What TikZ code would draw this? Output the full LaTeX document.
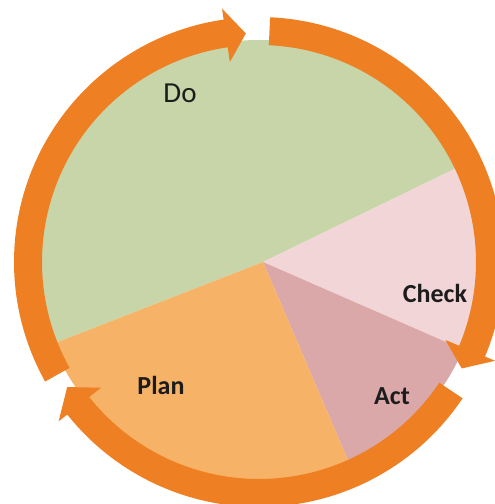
\documentclass[tikz,border=0pt]{standalone}
\usepackage{fontspec}
\setmainfont{Carlito}
\definecolor{dogreen}{HTML}{C8D5A9}
\definecolor{checkpink}{HTML}{F2D6D7}
\definecolor{actrose}{HTML}{DBA8A9}
\definecolor{planorange}{HTML}{F6B367}
\definecolor{ringorange}{HTML}{EE7F22}
\definecolor{labeltext}{HTML}{1C1C1C}
\begin{document}
\begin{tikzpicture}[x=1pt,y=1pt,
  ringarrow/.style={fill=ringorange},
  biglabel/.style={anchor=base,inner sep=0pt,text=labeltext,font=\fontsize{29}{32}\selectfont},
  boldlabel/.style={anchor=base,inner sep=0pt,text=labeltext,font=\fontsize{26}{30}\selectfont\bfseries}]
\useasboundingbox (0,0) rectangle (495,504);
% pie slices
\begin{scope}
  \clip (259,242) circle (222);
  \coordinate (V) at (263,242);
  \fill[dogreen]    (V) -- ++(25.9:400) -- ++(90:400) -- ++(180:900) -- ++(270:300) -- ([shift={(201.3:400)}]V) -- cycle;
  \fill[checkpink]  (V) -- ++(-23.6:400) -- ++(90:330) -- ([shift={(25.9:400)}]V) -- cycle;
  \fill[actrose]    (V) -- ++(-66.8:400) -- ++(0:300) -- ([shift={(-23.6:400)}]V) -- cycle;
  \fill[planorange] (V) -- ++(201.3:400) -- ++(270:400) -- ([shift={(-66.8:400)}]V) -- cycle;
\end{scope}
% ring arrows
\begin{scope}[shift={(259,242)}]
  \fill[ringarrow] (209.2:217) arc[start angle=209.2,end angle=98.3,radius=217]
     -- (98.3:202) -- (93.3:229) -- (98.3:256) -- (98.3:245)
     arc[start angle=98.3,end angle=209.2,radius=245] -- cycle;
  \fill[ringarrow] (87.4:217) arc[start angle=87.4,end angle=-22.7,radius=217]
     -- (-22.7:202) -- (-27.7:229) -- (-22.7:256) -- (-22.7:245)
     arc[start angle=-22.7,end angle=87.4,radius=245] -- cycle;
  \fill[ringarrow] (-33.8:217) arc[start angle=-33.8,end angle=-141.5,radius=217]
     -- (-141.5:202) -- (-146.9:229) -- (-141.5:256) -- (-141.5:245)
     arc[start angle=-141.5,end angle=-33.8,radius=245] -- cycle;
\end{scope}
% labels
\node[biglabel]  (do)    at (180,401) {Do};
\node[boldlabel] (check) at (435,201) {Check};
\node[boldlabel] (plan)  at (161,109) {Plan};
\node[boldlabel] (act)   at (392,99)  {Act};
\end{tikzpicture}
\end{document}
